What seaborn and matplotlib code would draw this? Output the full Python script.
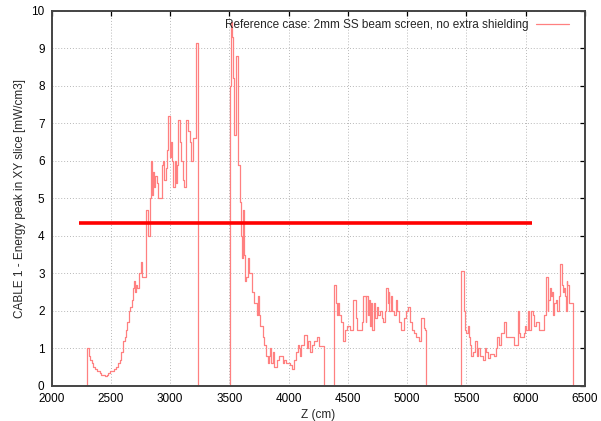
import matplotlib
matplotlib.use("Agg")
import matplotlib.pyplot as plt
import seaborn as sns
import pandas as pd

# step data: value holds from z onwards (steps-post)
z_cm = [2300, 2300, 2318, 2325, 2338, 2352, 2366, 2380, 2408, 2420, 2450, 2470, 2478, 2490, 2530,
        2547, 2560, 2575, 2590, 2603, 2620, 2630, 2640, 2655, 2662, 2675, 2685, 2697, 2703, 2710,
        2720, 2735, 2752, 2762, 2800, 2817, 2827, 2833, 2838, 2850, 2858, 2868, 2875, 2888, 2900,
        2935, 2944, 2950, 2962, 2975, 2985, 2997, 3008, 3020, 3025, 3040, 3052, 3060, 3070, 3083,
        3090, 3108, 3120, 3136, 3155, 3165, 3175, 3195, 3215, 3237,
        3508, 3514, 3525, 3534, 3540, 3552, 3560, 3577, 3587, 3600, 3606, 3615, 3622, 3630, 3643,
        3660, 3668, 3695, 3712, 3731, 3742, 3752, 3762, 3783, 3793, 3806, 3823, 3832, 3840, 3848,
        3855, 3866, 3875, 3905, 3915, 3952, 3965, 3978, 4010, 4025, 4047, 4060, 4075, 4085, 4095,
        4105, 4130, 4152, 4165, 4180, 4195, 4210, 4240, 4255, 4297,
        4380, 4400, 4410, 4420, 4428, 4438, 4455, 4462, 4475, 4495, 4515, 4540, 4572, 4580, 4620,
        4630, 4650, 4656, 4670, 4680, 4690, 4698, 4705, 4720, 4730, 4742, 4758, 4770, 4785, 4800,
        4810, 4822, 4835, 4843, 4850, 4860, 4875, 4885, 4905, 4918, 4935, 4950, 4970, 4990, 5008,
        5020, 5040, 5055, 5075, 5098, 5115, 5140, 5148, 5156,
        5458, 5480, 5488, 5495, 5512, 5520, 5530, 5540, 5555, 5570, 5590, 5600, 5615, 5640, 5660,
        5668, 5680, 5700, 5730, 5745, 5755, 5778, 5790, 5820, 5835, 5860, 5900, 5932, 5945, 5955,
        5985, 5995, 6005, 6018, 6030, 6042, 6058, 6070, 6085, 6110, 6155, 6168, 6185, 6190, 6202,
        6212, 6225, 6232, 6240, 6255, 6265, 6280, 6290, 6306, 6315, 6325, 6335, 6340, 6345, 6350,
        6365, 6400]
energy = [0, 1.0, 0.8, 0.7, 0.6, 0.5, 0.45, 0.4, 0.35, 0.3, 0.25, 0.3, 0.35, 0.4, 0.45,
          0.5, 0.6, 0.7, 0.9, 1.2, 1.3, 1.5, 1.7, 2.0, 2.1, 2.3, 2.6, 2.8, 2.5, 2.7,
          2.6, 3.0, 3.3, 2.9, 4.7, 4.0, 4.6, 5.0, 6.0, 5.1, 5.7, 5.3, 5.6, 5.4, 5.0,
          5.9, 6.0, 5.5, 5.8, 6.3, 7.2, 6.1, 6.5, 6.0, 5.3, 6.0, 5.4, 5.9, 7.1, 6.5,
          6.0, 5.5, 5.3, 7.1, 6.8, 6.5, 6.0, 6.6, 9.15, 0,
          8.0, 9.7, 9.3, 8.2, 6.7, 7.8, 8.8, 5.9, 4.9, 4.0, 3.4, 4.7, 3.5, 2.8, 2.9,
          3.4, 3.0, 2.5, 2.2, 1.9, 2.4, 1.9, 1.6, 1.3, 1.1, 0.8, 0.6, 0.8, 1.0, 0.7,
          0.6, 0.9, 0.5, 0.7, 0.8, 0.6, 0.7, 0.6, 0.55, 0.45, 0.7, 0.9, 1.1, 1.0, 0.8,
          1.1, 1.35, 1.0, 1.2, 0.9, 1.1, 1.2, 1.3, 1.05, 0,
          2.7, 2.2, 1.9, 2.2, 1.9, 1.7, 1.4, 1.2, 1.5, 1.6, 1.5, 2.3, 1.8, 1.5, 1.7,
          2.4, 1.7, 2.4, 1.9, 2.3, 1.6, 2.2, 1.5, 2.2, 1.8, 2.1, 1.9, 2.0, 1.8, 1.7,
          2.0, 2.6, 2.2, 2.5, 2.0, 2.4, 2.0, 1.9, 2.3, 2.0, 1.7, 1.5, 1.8, 2.0, 2.1,
          1.7, 1.5, 1.4, 1.3, 1.2, 1.8, 1.55, 1.5, 0,
          3.05, 2.0, 1.5, 1.4, 1.6, 1.3, 1.1, 0.8, 0.9, 1.2, 0.8, 1.0, 0.8, 0.7, 1.0,
          0.9, 0.75, 0.85, 0.8, 1.0, 1.3, 1.1, 1.4, 1.7, 1.3, 1.3, 1.1, 2.0, 1.4, 1.3,
          1.4, 1.6, 1.5, 2.0, 1.5, 2.0, 1.9, 1.6, 1.7, 1.5, 1.9, 2.9, 2.0, 2.3, 2.6,
          2.4, 2.5, 1.9, 2.2, 2.3, 2.0, 2.4, 3.25, 2.7, 2.5, 2.6, 2.4, 2.0, 2.8, 2.7,
          2.2, 0]

ref_z = [2230, 6055]
ref_level = [4.35, 4.35]

series_label = "Reference case: 2mm SS beam screen, no extra shielding"
x_ticks = [2000, 2500, 3000, 3500, 4000, 4500, 5000, 5500, 6000, 6500]
y_ticks = list(range(0, 11))

sns.set_style("white")
plt.rcParams['font.family'] = ['Liberation Sans', 'DejaVu Sans']

fig = plt.figure(figsize=(6.01, 4.21), dpi=100)
ax = fig.add_axes([0.0857, 0.0837, 0.8877, 0.8902])

df = pd.DataFrame({"z": z_cm, "e": energy})
sns.lineplot(data=df, x="z", y="e", ax=ax, drawstyle="steps-post", color="#ff8080",
             linewidth=0.9, label=series_label, sort=False, estimator=None)
sns.lineplot(x=ref_z, y=ref_level, ax=ax, color="#ff0000", linewidth=2.6, legend=False)
ax.lines[-1].set_solid_capstyle("butt")

ax.set_xlim(2000, 6500)
ax.set_ylim(0, 10)
ax.set_xticks(x_ticks)
ax.set_yticks(y_ticks)
ax.grid(True, color="#b8b8b8", linestyle=(0, (1, 2)), linewidth=0.7)
ax.tick_params(direction="in", length=3.5, width=0.9, top=True, right=True,
               labelsize=8.5, colors="black", pad=5)
for s in ax.spines.values():
    s.set_color("#444444")
    s.set_linewidth(1.4)

ax.set_xlabel("Z (cm)", fontsize=8.5, labelpad=3)
ax.set_ylabel("CABLE 1 - Energy peak in XY slice [mW/cm3]", fontsize=8.5, labelpad=4)

leg = ax.legend(loc="upper right", frameon=False, fontsize=8.5, handlelength=2.8,
                markerfirst=False, borderaxespad=0.3, handletextpad=0.6,
                bbox_to_anchor=(0.985, 1.0))

fig.savefig("out.png", dpi=100)
